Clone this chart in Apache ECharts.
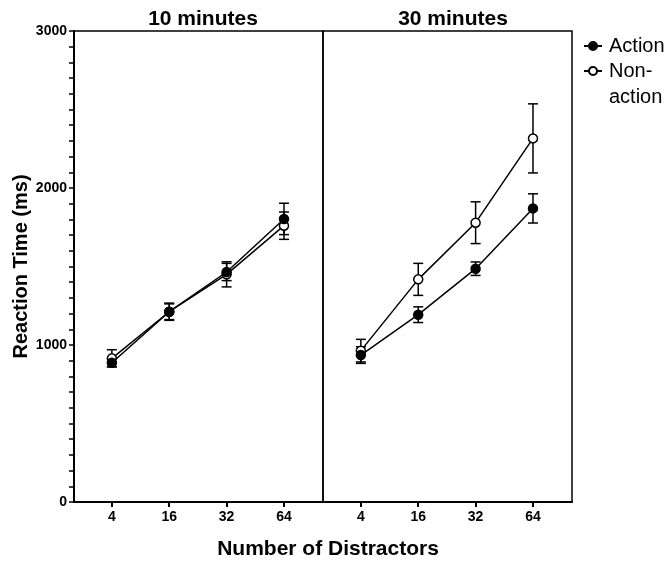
<!DOCTYPE html>
<html>
<head>
<meta charset="utf-8">
<script src="https://cdn.jsdelivr.net/npm/echarts@6/dist/echarts.min.js"></script>
<style>
html,body{margin:0;padding:0;background:#fff;}
#chart{width:667px;height:561px;}
</style>
</head>
<body>
<div id="chart"></div>
<script>
var categories = ['4', '16', '32', '64'];
var panelTitles = ['10 minutes', '30 minutes'];
var yTicks = [0, 1000, 2000, 3000];

var action10 = [887, 1212, 1465, 1803];
var action10Err = [25, 50, 55, 100];
var nonaction10 = [915, 1212, 1450, 1760];
var nonaction10Err = [55, 55, 80, 87];

var action30 = [936, 1193, 1486, 1870];
var action30Err = [53, 50, 43, 93];
var nonaction30 = [964, 1418, 1779, 2316];
var nonaction30Err = [72, 102, 133, 220];

var FONT = 'Liberation Sans, Arial, sans-serif';

function pts(vals, errs) {
  return vals.map(function (v, i) { return [i + 1, v, errs[i]]; });
}

function errorSeries(vals, errs, idx) {
  return {
    type: 'custom',
    xAxisIndex: idx, yAxisIndex: idx,
    z: 1,
    silent: true,
    data: pts(vals, errs),
    renderItem: function (params, api) {
      var x = api.value(0), y = api.value(1), e = api.value(2);
      var top = api.coord([x, y + e]);
      var bot = api.coord([x, y - e]);
      var hw = 5;
      var st = { stroke: '#000', lineWidth: 1.5 };
      return {
        type: 'group',
        children: [
          { type: 'line', shape: { x1: top[0], y1: top[1], x2: bot[0], y2: bot[1] }, style: st },
          { type: 'line', shape: { x1: top[0] - hw, y1: top[1], x2: top[0] + hw, y2: top[1] }, style: st },
          { type: 'line', shape: { x1: bot[0] - hw, y1: bot[1], x2: bot[0] + hw, y2: bot[1] }, style: st }
        ]
      };
    }
  };
}

function lineSeries(name, vals, errs, idx, filled) {
  return {
    name: name,
    type: 'line',
    xAxisIndex: idx, yAxisIndex: idx,
    z: filled ? 4 : 3,
    data: pts(vals, errs),
    symbol: 'circle',
    symbolSize: 9,
    showSymbol: true,
    lineStyle: { color: '#000', width: 1.5 },
    itemStyle: { color: filled ? '#000' : '#fff', borderColor: '#000', borderWidth: 1.5 },
    emphasis: { disabled: true },
    animation: false
  };
}

function xAxis(idx) {
  return {
    type: 'value',
    gridIndex: idx,
    min: 0.34, max: 4.68,
    axisLine: { show: true, onZero: false, lineStyle: { color: '#000', width: 2 } },
    axisTick: { show: true, customValues: [1, 2, 3, 4], length: 5, lineStyle: { color: '#000', width: 2 } },
    axisLabel: {
      customValues: [1, 2, 3, 4],
      formatter: function (v) { return categories[Math.round(v) - 1]; },
      color: '#000', fontFamily: FONT, fontWeight: 'bold', fontSize: 14, margin: 8
    },
    splitLine: { show: false }
  };
}

function yAxis(idx) {
  var main = idx === 0;
  return {
    type: 'value',
    gridIndex: idx,
    min: yTicks[0], max: yTicks[yTicks.length - 1], interval: 1000,
    show: main,
    name: main ? 'Reaction Time (ms)' : '',
    nameLocation: 'middle',
    nameGap: 41,
    nameTextStyle: { color: '#000', fontFamily: FONT, fontWeight: 'bold', fontSize: 20 },
    axisLine: { show: main, lineStyle: { color: '#000', width: 2 } },
    axisTick: { show: main, length: 5, lineStyle: { color: '#000', width: 1.5 } },
    minorTick: { show: main, splitNumber: 10, length: 5, lineStyle: { color: '#000', width: 1.5 } },
    axisLabel: {
      show: main, color: '#000', fontFamily: FONT, fontWeight: 'bold', fontSize: 14, margin: 7,
      formatter: function (v) { return String(v); }
    },
    splitLine: { show: false },
    minorSplitLine: { show: false }
  };
}

var chart = echarts.init(document.getElementById('chart'), null, { renderer: 'canvas' });
chart.setOption({
  animation: false,
  backgroundColor: '#fff',
  title: [
    { text: panelTitles[0], left: 198, top: 4, textAlign: 'center',
      textStyle: { color: '#000', fontFamily: FONT, fontWeight: 'bold', fontSize: 21 } },
    { text: panelTitles[1], left: 448, top: 4, textAlign: 'center',
      textStyle: { color: '#000', fontFamily: FONT, fontWeight: 'bold', fontSize: 21 } },
    { text: 'Number of Distractors', left: 323, top: 534, textAlign: 'center',
      textStyle: { color: '#000', fontFamily: FONT, fontWeight: 'bold', fontSize: 21 } }
  ],
  grid: [
    { left: 74, right: 344, top: 31, bottom: 59, show: true, borderColor: '#000', borderWidth: 1.5, backgroundColor: 'transparent' },
    { left: 323, right: 95, top: 31, bottom: 59, show: true, borderColor: '#000', borderWidth: 1.5, backgroundColor: 'transparent' }
  ],
  legend: {
    orient: 'vertical',
    left: 578, top: 31,
    itemWidth: 18, itemHeight: 10,
    itemGap: 5,
    data: ['Action', 'Non-action'],
    formatter: function (n) { return n === 'Non-action' ? 'Non-' : n; },
    textStyle: { color: '#000', fontFamily: FONT, fontSize: 20, padding: [0, 0, 0, 2] },
    selectedMode: false
  },
  graphic: [
    { type: 'text', left: 609, top: 87,
      style: { text: 'action', fill: '#000', font: '20px ' + FONT } }
  ],
  xAxis: [xAxis(0), xAxis(1)],
  yAxis: [yAxis(0), yAxis(1)],
  series: [
    errorSeries(nonaction10, nonaction10Err, 0),
    errorSeries(action10, action10Err, 0),
    lineSeries('Non-action', nonaction10, nonaction10Err, 0, false),
    lineSeries('Action', action10, action10Err, 0, true),
    errorSeries(nonaction30, nonaction30Err, 1),
    errorSeries(action30, action30Err, 1),
    lineSeries('Non-action', nonaction30, nonaction30Err, 1, false),
    lineSeries('Action', action30, action30Err, 1, true)
  ]
});
</script>
</body>
</html>
